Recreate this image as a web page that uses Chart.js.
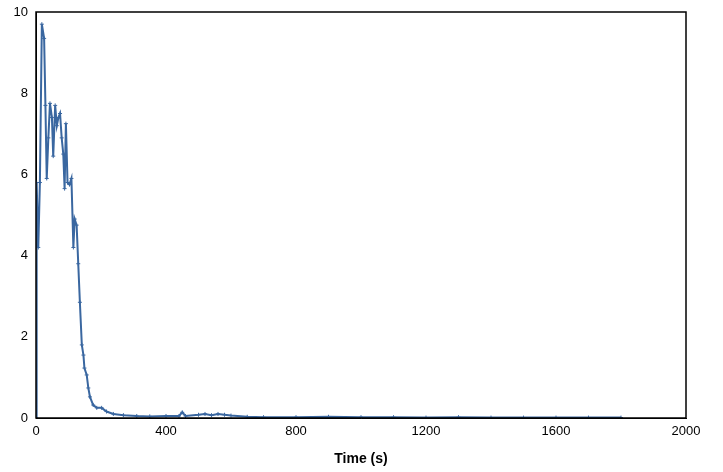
<!DOCTYPE html>
<html>
<head>
<meta charset="utf-8">
<script src="https://cdn.jsdelivr.net/npm/chart.js@4"></script>
<style>
  html, body { margin: 0; padding: 0; background: #fff; }
  #wrap { width: 723px; height: 472px; }
</style>
</head>
<body>
<div id="wrap"><canvas id="c"></canvas></div>
<script>
// time (s) and signal values
const times = [0, 2, 7, 12, 18, 25, 29, 33, 38, 43, 49, 53, 59, 64, 69, 74, 79, 84, 88, 92, 97, 103, 109, 115, 119, 125, 130, 135, 141, 146, 149, 156, 161, 166, 176, 187, 202, 217, 238, 269, 310,
  350, 400, 440, 450, 460, 500, 520, 540, 560, 580, 600, 650, 700, 800, 900, 1000, 1100, 1200, 1300, 1400, 1500, 1600, 1700, 1800];
const values = [0, 5.8, 4.2, 5.8, 9.7, 9.35, 7.7, 5.9, 6.9, 7.75, 7.4, 6.45, 7.7, 7.2, 7.4, 7.5, 6.9, 6.5, 5.65, 7.25, 5.8, 5.75, 5.9, 4.2, 4.9, 4.75, 3.8, 2.85, 1.8, 1.55, 1.23, 1.06, 0.74, 0.52, 0.32, 0.25, 0.25, 0.16, 0.1, 0.07, 0.05,
  0.04, 0.05, 0.05, 0.14, 0.05, 0.08, 0.1, 0.07, 0.1, 0.08, 0.06, 0.03, 0.02, 0.02, 0.03, 0.02, 0.02, 0.01, 0.02, 0.01, 0.01, 0.01, 0.01, 0.01];
const xTicks = [0, 400, 800, 1200, 1600, 2000];
const yTicks = [0, 2, 4, 6, 8, 10];

const lineColor = '#3a67a0';
const boxPlugin = {
  id: 'box',
  afterDraw(chart) {
    const a = chart.chartArea, ctx = chart.ctx;
    ctx.save();
    ctx.strokeStyle = '#000';
    ctx.lineWidth = 1.5;
    ctx.strokeRect(a.left, a.top, a.right - a.left, a.bottom - a.top);
    ctx.restore();
  }
};

new Chart(document.getElementById('c'), {
  type: 'line',
  data: {
    datasets: [{
      data: times.map((t, i) => ({ x: t, y: values[i] })),
      borderColor: lineColor,
      borderWidth: 2,
      pointStyle: 'cross',
      pointRadius: 2,
      pointBorderColor: lineColor,
      pointBorderWidth: 1,
      tension: 0,
      fill: false
    }]
  },
  options: {
    responsive: true,
    maintainAspectRatio: false,
    animation: false,
    layout: { padding: { top: 12, right: 37 } },
    plugins: { legend: { display: false }, tooltip: { enabled: false } },
    scales: {
      x: {
        type: 'linear', min: 0, max: 2000,
        afterBuildTicks: s => { s.ticks = xTicks.map(v => ({ value: v })); },
        afterFit: s => { s.height = 54; },
        grid: { display: false, tickLength: 4, tickColor: '#000' },
        border: { color: '#000' },
        ticks: { color: '#000', font: { family: 'Arial, Liberation Sans', size: 13 }, padding: 2, maxRotation: 0, callback: v => String(v) },
        title: { display: true, text: 'Time (s)', color: '#000', font: { family: 'Arial, Liberation Sans', size: 14, weight: 'bold' }, padding: { top: 4 } }
      },
      y: {
        min: 0, max: 10,
        afterBuildTicks: s => { s.ticks = yTicks.map(v => ({ value: v })); },
        afterFit: s => { s.width = 36; },
        grid: { display: false, tickLength: 4, tickColor: '#000' },
        border: { color: '#000' },
        ticks: { color: '#000', font: { family: 'Arial, Liberation Sans', size: 13 }, padding: 4, callback: v => String(v) }
      }
    }
  },
  plugins: [boxPlugin]
});
</script>
</body>
</html>
